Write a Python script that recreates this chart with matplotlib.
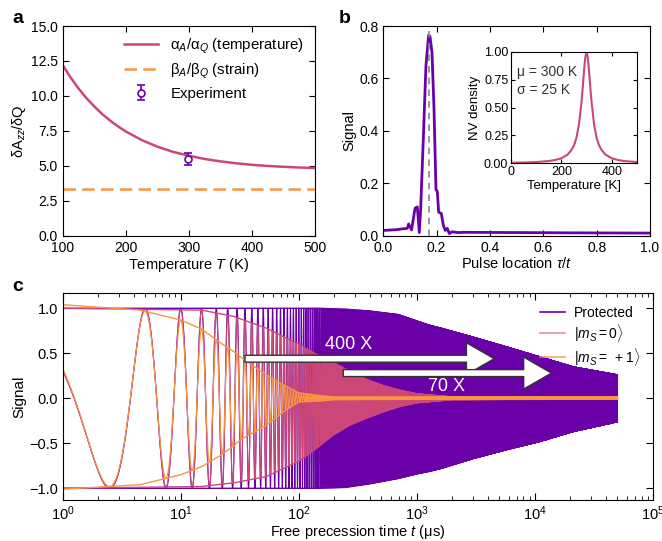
import numpy as np
import matplotlib
matplotlib.use('Agg')
import matplotlib.pyplot as plt

plt.rcParams['font.family'] = ['Liberation Sans', 'DejaVu Sans']
plt.rcParams['mathtext.fontset'] = 'custom'
plt.rcParams['mathtext.rm'] = 'Liberation Sans'
plt.rcParams['mathtext.it'] = 'Liberation Sans:italic'
plt.rcParams['mathtext.bf'] = 'Liberation Sans:bold'
plt.rcParams['xtick.direction'] = 'in'
plt.rcParams['ytick.direction'] = 'in'
plt.rcParams['xtick.top'] = True
plt.rcParams['ytick.right'] = True
# keep every turning point of the dense oscillations
plt.rcParams['path.simplify'] = False

PURPLE = '#6a00a8'
PINK = '#cc4778'
ORANGE = '#f89540'

# ---- a: hyperfine / quadrupole ratio vs temperature ----
T_MODEL = [100, 112.5, 125, 137.5, 150, 162.5, 175, 187.5, 200, 225, 250, 275, 300,
           325, 350, 375, 400, 425, 450, 475, 500]
RATIO_TEMP = [12.2, 11.32, 10.54, 9.85, 9.25, 8.71, 8.24, 7.83, 7.46, 6.85, 6.37, 6.0, 5.72,
              5.49, 5.32, 5.18, 5.07, 4.99, 4.93, 4.88, 4.84]
RATIO_STRAIN = 3.33
T_EXP = [298]
RATIO_EXP = [5.5]
RATIO_EXP_ERR = [0.42]

# ---- b: signal vs pulse location ----
PULSE_X = [0.0, 0.03, 0.05, 0.07, 0.09, 0.095, 0.106, 0.119, 0.1275, 0.135, 0.14, 0.15, 0.16,
           0.17, 0.175, 0.1825, 0.19, 0.1975, 0.2025, 0.2075, 0.2175, 0.225, 0.2325, 0.24,
           0.2475, 0.2575, 0.28, 0.3, 0.5, 0.7, 1.0]
PULSE_SIG = [0.02, 0.022, 0.023, 0.026, 0.028, 0.045, 0.022, 0.105, 0.11, 0.012, 0.1, 0.37, 0.65,
             0.765, 0.76, 0.70, 0.49, 0.175, 0.17, 0.09, 0.085, 0.04, 0.02, 0.028,
             0.008, 0.015, 0.012, 0.013, 0.012, 0.011, 0.01]
PULSE_MARK = 0.1725

# inset: NV temperature distribution
T_DIST = [0, 50, 100, 150, 175, 200, 225, 240, 250, 260, 270, 280, 285, 290, 295, 300,
          305, 310, 315, 320, 330, 340, 350, 360, 375, 400, 425, 450, 500]
NV_DENS = [0.005, 0.008, 0.012, 0.021, 0.03, 0.046, 0.079, 0.12, 0.16, 0.23, 0.35, 0.55, 0.68,
           0.83, 0.95, 1.0, 0.95, 0.83, 0.68, 0.55, 0.35, 0.23, 0.16, 0.12, 0.079, 0.046, 0.03,
           0.021, 0.012]

# ---- c: free precession, envelopes (upper / lower) and oscillation period ----
PERIOD_US = 5.0
T_PROT = [1, 150, 250, 400, 700, 1000, 1300, 1600, 3000, 5800, 11000, 21000, 50000]
PROT_UP = [1.0, 1.0, 0.99, 0.97, 0.93, 0.86, 0.81, 0.78, 0.68, 0.57, 0.46, 0.35, 0.26]
PROT_LO = [-1.0, -1.0, -0.99, -0.95, -0.89, -0.84, -0.81, -0.78, -0.67, -0.57, -0.48, -0.37, -0.26]

T_MS0 = [1, 15, 28, 53, 100, 140, 195, 270, 375, 520, 720, 1000, 2000, 50000]
MS0_UP = [1.0, 0.98, 0.91, 0.78, 0.60, 0.49, 0.40, 0.30, 0.21, 0.14, 0.09, 0.05, 0.015, 0.01]
MS0_LO = [-1.0, -0.98, -0.94, -0.87, -0.70, -0.56, -0.41, -0.30, -0.22, -0.15, -0.09, -0.05, -0.015, -0.01]

T_MS1 = [1, 4.5, 10, 15, 22, 28, 32, 53, 74, 100, 150, 200, 700, 50000]
MS1_UP = [1.04, 0.98, 0.87, 0.77, 0.61, 0.52, 0.46, 0.26, 0.15, 0.06, 0.03, 0.015, 0.012, 0.01]
MS1_LO = [-1.01, -0.96, -0.85, -0.76, -0.63, -0.53, -0.46, -0.30, -0.15, -0.04, -0.03, -0.015, -0.012, -0.01]

fig = plt.figure(figsize=(6.62, 5.41), dpi=100)

# panel a
ax_a = fig.add_axes([0.0947, 0.5643, 0.381, 0.3876])
ax_a.plot(T_MODEL, RATIO_TEMP, color=PINK, lw=1.8, label='α$_A$/α$_Q$ (temperature)')
ax_a.axhline(RATIO_STRAIN, color=ORANGE, lw=1.8, dashes=(5, 2.5), label='β$_A$/β$_Q$ (strain)')
ax_a.errorbar(T_EXP, RATIO_EXP, yerr=RATIO_EXP_ERR, fmt='o', mfc='white', mec=PURPLE,
              ecolor=PURPLE, ms=5, mew=1.2, elinewidth=1.2, capsize=3, label='Experiment')
ax_a.set_xlim(100, 500)
ax_a.set_ylim(0, 15)
ax_a.set_xticks([100, 200, 300, 400, 500])
ax_a.set_yticks(np.arange(0, 15.1, 2.5))
ax_a.tick_params(labelsize=10, length=4)
ax_a.set_xlabel('Temperature $T$ (K)', fontsize=10.5, labelpad=1)
ax_a.set_ylabel('δA$_{zz}$/δQ', fontsize=10.5, labelpad=2)
ax_a.legend(loc='upper right', frameon=False, fontsize=10.8, handlelength=2.3,
            handletextpad=0.8, labelspacing=0.4, borderaxespad=0.3)

# panel b
ax_b = fig.add_axes([0.579, 0.5643, 0.4029, 0.3876])
ax_b.plot(PULSE_X, PULSE_SIG, color=PURPLE, lw=2)
ax_b.axvline(PULSE_MARK, color='#888888', lw=1.2, dashes=(4, 3))
ax_b.set_xlim(0, 1)
ax_b.set_ylim(0, 0.8)
ax_b.set_xticks(np.arange(0, 1.01, 0.2))
ax_b.set_yticks(np.arange(0, 0.81, 0.2))
ax_b.tick_params(labelsize=10, length=4)
ax_b.set_xlabel('Pulse location $τ/t$', fontsize=10.5, labelpad=1)
ax_b.set_ylabel('Signal', fontsize=10.5, labelpad=2)

ax_in = fig.add_axes([0.772, 0.698, 0.19, 0.2063])
ax_in.plot(T_DIST, NV_DENS, color=PINK, lw=1.5)
ax_in.set_xlim(0, 500)
ax_in.set_ylim(0, 1)
ax_in.set_xticks([0, 200, 400])
ax_in.set_yticks([0, 0.25, 0.5, 0.75, 1.0])
ax_in.set_yticklabels(['0.00', '0.25', '0.50', '0.75', '1.00'])
ax_in.tick_params(labelsize=9, length=3, pad=2)
ax_in.set_xlabel('Temperature [K]', fontsize=9.5, labelpad=1)
ax_in.set_ylabel('NV density', fontsize=9.5, labelpad=2)
ax_in.text(0.05, 0.88, 'μ = 300 K\nσ = 25 K', transform=ax_in.transAxes, fontsize=10,
           va='top', ha='left', color='#333333', linespacing=1.35)

# panel c
ax_c = fig.add_axes([0.0947, 0.0758, 0.8917, 0.3826])
t = np.concatenate([np.arange(1, 200, 0.02), np.arange(200, 50000, 0.5)])
phase = np.cos(2 * np.pi * t / PERIOD_US)


def trace(t_env, up, lo):
    lt = np.log10(t)
    u = np.interp(lt, np.log10(t_env), up)
    l_ = np.interp(lt, np.log10(t_env), lo)
    return (u + l_) / 2 + (u - l_) / 2 * phase


series = [
    (T_PROT, PROT_UP, PROT_LO, PURPLE, 1.0, 'Protected'),
    (T_MS0, MS0_UP, MS0_LO, PINK, 0.6, r'$|m_S = 0\rangle$'),
    (T_MS1, MS1_UP, MS1_LO, ORANGE, 0.8, r'$|m_S =\ +1\rangle$'),
]
handles = []
for t_env, up, lo, col, alpha, lab in series:
    ax_c.plot(t, trace(t_env, up, lo), color=col, lw=0.8)
    ax_c.plot(t_env, up, color=col, lw=1.0)
    ax_c.plot(t_env, lo, color=col, lw=1.0)
    h, = ax_c.plot([], [], color=col, lw=1.2, alpha=alpha, label=lab)
    handles.append(h)

arrow = dict(arrowstyle='simple,head_length=1.0,head_width=1.15,tail_width=0.25',
             fc='white', ec='#333333', lw=1.0, mutation_scale=20, shrinkA=0, shrinkB=0)
ax_c.annotate('', xy=(4520, 0.44), xytext=(35, 0.44), arrowprops=arrow)
ax_c.annotate('', xy=(13800, 0.28), xytext=(238, 0.28), arrowprops=arrow)
ax_c.text(266, 0.6, '400 X', color='white', fontsize=13, ha='center', va='center')
ax_c.text(1795, 0.13, '70 X', color='white', fontsize=13, ha='center', va='center')

ax_c.set_xscale('log')
ax_c.set_xlim(1, 1e5)
ax_c.set_ylim(-1.13, 1.17)
ax_c.set_yticks([-1.0, -0.5, 0.0, 0.5, 1.0])
ax_c.tick_params(which='major', labelsize=10.5, length=5)
ax_c.tick_params(which='minor', length=3)
ax_c.set_xlabel('Free precession time $t$ (μs)', fontsize=10.5, labelpad=0)
ax_c.set_ylabel('Signal', fontsize=11, labelpad=2)
ax_c.legend(handles=handles, loc='upper right', frameon=False, fontsize=10,
            handlelength=1.8, handletextpad=0.7, labelspacing=0.15, borderaxespad=0.5)

fig.text(0.018, 0.965, 'a', fontsize=14, fontweight='bold', va='center')
fig.text(0.512, 0.965, 'b', fontsize=14, fontweight='bold', va='center')
fig.text(0.018, 0.47, 'c', fontsize=14, fontweight='bold', va='center')

fig.savefig('out.png', dpi=100)
